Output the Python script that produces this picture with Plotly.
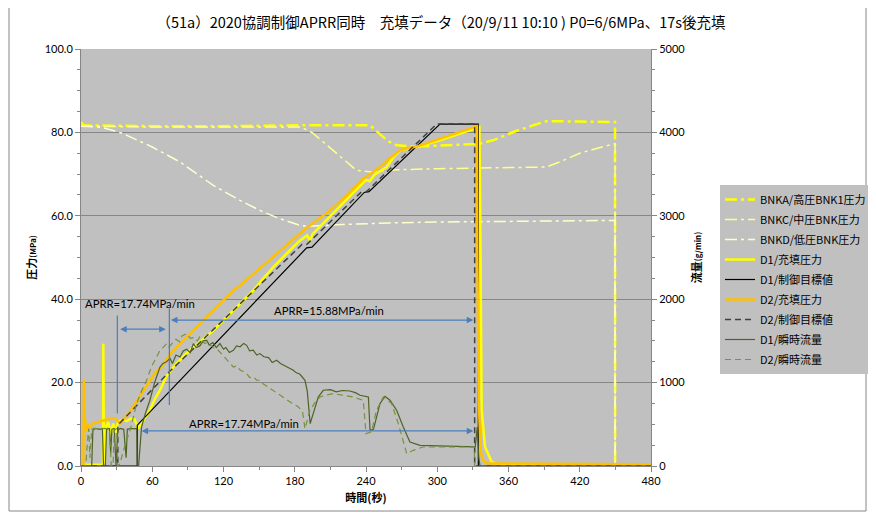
import plotly.graph_objects as go

# ---------------- data ----------------
# Bank pressures (MPa)
bnka_t = [0, 1, 3, 60, 120, 180, 243.4, 251.8, 258, 265.8, 280, 300, 320, 336, 347, 364, 380.9, 392, 420, 448, 449.7, 449.8, 480]
bnka_p = [82.5, 82.0, 81.7, 81.5, 81.5, 81.7, 81.7, 79.7, 78.0, 76.9, 76.6, 76.8, 77.1, 77.3, 78.1, 80.1, 81.7, 82.7, 82.6, 82.5, 82.5, 0, 0]

bnkc_t = [0, 60, 120, 185, 195, 205, 215, 225, 232, 245, 260, 300, 340, 380, 392, 403, 420, 440, 448, 449.7, 449.8, 480]
bnkc_p = [81.5, 81.3, 81.3, 81.3, 79.9, 77.5, 75.0, 72.5, 70.9, 70.5, 71.0, 71.3, 71.5, 71.7, 71.7, 72.9, 75.0, 76.6, 77.3, 77.3, 0, 0]

bnkd_t = [0, 15, 21.6, 35.6, 60, 83.4, 111.4, 133.9, 153.5, 167.6, 184.4, 192, 220, 260, 300, 340, 400, 449, 449.7, 449.8, 480]
bnkd_p = [81.5, 81.3, 80.9, 79.7, 76.5, 72.9, 67.3, 63.7, 60.9, 59.3, 57.7, 57.5, 57.9, 58.3, 58.5, 58.6, 58.7, 58.9, 58.9, 0, 0]

# D1 fill pressure (MPa)
d1p_t = [0, 18.5, 18.8, 19.3, 21, 23, 25, 27, 29, 31, 35, 39, 42, 45, 48.3, 50, 54, 58, 62, 66.5, 72, 77.7, 86, 94.6,
         103, 111.4, 120, 128.3, 136, 145.1, 153, 162, 172, 184.4, 190.5, 192.8, 195, 205, 218, 230, 240, 243, 247,
         257.4, 263, 269, 282.7, 302.3, 316, 330.4, 335.5, 336.2, 337.4, 340.2, 345.8, 352, 480]
d1p_p = [0.3, 0.3, 29.3, 0.5, 9.5, 10.5, 7.5, 10.2, 8.0, 10.5, 11.0, 10.8, 11.4, 11.2, 9.0, 9.8, 11.5, 13.4, 16.0, 18.2, 21.5,
         23.7, 26.3, 28.5, 30.5, 32.5, 35.0, 37.3, 39.5, 42.1, 44.8, 47.7, 50.6, 54.1, 55.3, 54.0, 55.6, 58.5, 62.1, 65.8,
         68.6, 68.3, 69.8, 71.7, 74.0, 75.7, 76.5, 78.1, 79.5, 80.9, 81.3, 60.0, 13.4, 4.6, 1.0, 0.4, 0.3]

# D1 control target (MPa)
d1t_t = [0, 47.4, 47.4, 190.0, 194.5, 238.5, 242.5, 302.3, 334.6, 334.6, 480]
d1t_p = [0, 0, 9.8, 52.3, 52.5, 65.6, 65.8, 82.0, 82.0, 0, 0]

# D2 fill pressure (MPa)
d2p_t = [0, 2.0, 2.4, 3.2, 4.5, 6, 8, 10, 15, 20, 25, 28.6, 31, 32.8, 37, 40, 43, 49, 55.3, 61, 68, 75, 85, 94.6, 103,
         111.4, 120, 128.3, 134, 148, 162, 174, 185.8, 197, 209.7, 224, 237.7, 245, 251.8, 260, 268.6, 276, 282.7, 292,
         302.3, 316, 330.4, 333.5, 333.8, 335, 336.5, 338, 342, 480]
d2p_p = [0.5, 0.5, 20.8, 11.7, 8.2, 10.0, 9.4, 10.2, 10.6, 11.0, 11.4, 11.4, 10.8, 10.2, 11.5, 12.5, 13.8, 16.4, 19.4, 21.8,
         23.9, 26.8, 29.8, 32.5, 35.0, 37.3, 39.8, 42.1, 43.3, 46.8, 50.1, 53.2, 56.1, 58.6, 61.3, 64.9, 68.9, 70.3, 71.7,
         73.8, 75.7, 76.3, 76.6, 77.5, 78.5, 79.8, 81.3, 81.5, 50.0, 15.0, 4.0, 1.5, 0.6, 0.4]

# D2 control target (MPa)
d2t_t = [0, 31, 31, 74.4, 186, 190, 236, 240, 299.5, 331.5, 331.5, 480]
d2t_p = [0, 0, 9.8, 22.6, 53.1, 53.1, 65.7, 65.7, 82.0, 82.0, 0, 0]

# D1 instantaneous flow (g/min)
d1f_t = [0, 9, 10, 12, 16, 18, 19, 20.5, 21.5, 24, 25, 26, 28, 29.5, 31, 33, 36, 38, 39, 42, 45, 47, 47.4, 48.5, 51, 54,
         58, 62, 66.5, 69, 72, 75, 77, 80, 83.4, 86, 89, 92, 94.6, 97, 100, 103, 105.9, 108, 111, 114, 117, 120, 122,
         125, 128.3, 131, 134, 137, 139.5, 142, 145, 148, 150.7, 154, 158, 161, 164.8, 168, 172, 175, 178.8, 181, 184.4,
         188.6, 190.5, 193, 195, 199.8, 204, 210, 215, 220, 226.5, 231, 235, 242, 243.4, 246.3, 251.8, 256, 260.2,
         265.8, 271.4, 277, 285.5, 300, 310.7, 320, 330.4, 332, 333.7, 335, 336, 480]
d1f_v = [0, 0, 430, 450, 440, 450, 0, 0, 440, 450, 150, 440, 450, 0, 430, 450, 440, 100, 440, 450, 445, 450, 0, 0, 468,
         620, 788, 1000, 1187, 1230, 1250, 1290, 1230, 1330, 1307, 1380, 1400, 1360, 1468, 1420, 1440, 1500, 1507, 1450,
         1480, 1420, 1468, 1400, 1420, 1360, 1387, 1440, 1430, 1470, 1447, 1380, 1390, 1330, 1348, 1310, 1300, 1240,
         1267, 1230, 1200, 1180, 1147, 1120, 1100, 1028, 900, 508, 600, 827, 908, 915, 890, 905, 899, 880, 848, 827, 428,
         440, 748, 836, 788, 668, 468, 288, 248, 240, 236, 232, 228, 230, 468, 100, 0, 0]

# D2 instantaneous flow (g/min)
d2f_t = [0, 4, 5.5, 6.5, 7.5, 9, 11, 15, 20, 24, 25.5, 27, 28, 30, 30.8, 32.8, 36, 41.3, 46.9, 51, 55.3, 59, 63.7, 66.5,
         69, 72.2, 74, 77, 80, 83, 85, 89, 92, 95, 98, 100, 104, 107, 111, 114.3, 118, 121, 125, 128.3, 131, 134, 137,
         139.5, 142, 145, 148, 150.7, 153, 156, 159, 162, 165, 168, 171, 173.2, 176, 179, 182, 184.4, 186.5, 188.6,
         190.5, 192.8, 197, 201.3, 206, 212.5, 220, 229.3, 237.7, 240, 244.6, 248.8, 254.6, 261.6, 267.2, 271.4, 274.3,
         279.8, 288, 310.7, 330.4, 331.2, 331.5, 480]
d2f_v = [0, 0, 300, 450, 100, 440, 450, 445, 450, 440, 0, 0, 430, 450, 0, 29, 200, 428, 748, 900, 1028, 1180, 1307, 1387,
         1420, 1468, 1428, 1480, 1520, 1490, 1560, 1587, 1530, 1540, 1500, 1547, 1470, 1480, 1420, 1408, 1350, 1300,
         1240, 1187, 1200, 1150, 1130, 1108, 1060, 1070, 1030, 1028, 990, 960, 940, 908, 870, 850, 810, 788, 770, 740,
         720, 688, 660, 448, 560, 668, 760, 827, 850, 868, 850, 827, 788, 388, 408, 668, 827, 748, 508, 308, 148, 188,
         228, 228, 228, 228, 0, 0]

# Tick values
x_ticks = [0, 60, 120, 180, 240, 300, 360, 420, 480]
y_ticks = [0, 20, 40, 60, 80, 100]
y2_ticks = [0, 1000, 2000, 3000, 4000, 5000]

# APRR annotations: (label, text x, text y)
aprr_labels = ["APRR=17.74MPa/min", "APRR=15.88MPa/min", "APRR=17.74MPa/min"]
aprr_text_x = [1.4, 160.8, 89.0]
aprr_text_y = [38.9, 37.2, 10.2]
# double arrows: (x start, x end, y)
arrow_x0 = [31.7, 74.4, 49.7]
arrow_x1 = [71.4, 330.4, 330.4]
arrow_y = [32.8, 35.0, 8.4]
# vertical marker lines: (x, y0, y1)
vline_x = [30.6, 74.4]
vline_y0 = [12.6, 14.6]
vline_y1 = [36.1, 37.8]

# ---------------- figure ----------------
FONT = "Noto Sans CJK JP"
NUMFONT = "Lato"
DASHDOT = "12px,4px,3px,4px"

# the page body adds an 8px offset; plot area in figure coords: x 73-643, y 41-458
W, H = 868, 509
L, R, T, B = 73, 225, 41, 51
PW, PH = W - L - R, H - T - B

fig = go.Figure()

def add(t, v, name, color, width, dash="solid", yaxis="y"):
    fig.add_trace(go.Scatter(x=t, y=v, name=name, mode="lines", yaxis=yaxis, legendgroup=name,
                             line=dict(color=color, width=width, dash=dash)))

add(bnka_t, bnka_p, "BNKA/高圧BNK1圧力", "#FFFF00", 2.5, DASHDOT)
add(bnkc_t, bnkc_p, "BNKC/中圧BNK圧力", "#FFFF8C", 1.5, DASHDOT)
add(bnkd_t, bnkd_p, "BNKD/低圧BNK圧力", "#FFFFCC", 1.5, DASHDOT)
add(d1p_t, d1p_p, "D1/充填圧力", "#FFFF00", 2.5)
add(d1t_t, d1t_p, "D1/制御目標値", "#000000", 1.2)
add(d2p_t, d2p_p, "D2/充填圧力", "#FFC000", 2.5)
add(d2t_t, d2t_p, "D2/制御目標値", "#404040", 1.5, "6px,4px")
add(d1f_t, d1f_v, "D1/瞬時流量", "#4F6228", 1.2, "solid", "y2")
add(d2f_t, d2f_v, "D2/瞬時流量", "#77933C", 1.2, "6px,4px", "y2")

axis_col = "#868686"

annotations = []
for lab, tx, ty in zip(aprr_labels, aprr_text_x, aprr_text_y):
    annotations.append(dict(x=tx, y=ty, xref="x", yref="y", text=lab, showarrow=False,
                            xanchor="left", yanchor="middle",
                            font=dict(family=NUMFONT, size=11.3, color="#000000")))
for x0, x1, yy in zip(arrow_x0, arrow_x1, arrow_y):
    annotations.append(dict(x=x1, y=yy, ax=x0, ay=yy, xref="x", yref="y", axref="x", ayref="y",
                            text="", showarrow=True, arrowhead=2, startarrowhead=2, arrowside="end+start",
                            arrowsize=1.1, startarrowsize=1.1, arrowwidth=1.2, arrowcolor="#4A7EBB",
                            standoff=0, startstandoff=0))

shapes = []
for vx, vy0, vy1 in zip(vline_x, vline_y0, vline_y1):
    shapes.append(dict(type="line", xref="x", yref="y", x0=vx, x1=vx, y0=vy0, y1=vy1,
                       line=dict(color="#4A7EBB", width=1.2)))
# outer chart border
shapes.append(dict(type="rect", xref="paper", yref="paper",
                   x0=(1 - L) / PW, x1=(858 - L) / PW, y0=(T + PH - 503) / PH, y1=(T + PH + 2) / PH,
                   line=dict(color=axis_col, width=1), fillcolor="rgba(0,0,0,0)", layer="below"))

fig.update_layout(
    width=W, height=H,
    margin=dict(l=L, r=R, t=T, b=B, autoexpand=False),
    paper_bgcolor="white", plot_bgcolor="#C0C0C0",
    title=dict(text="（51a）2020協調制御APRR同時　充填データ（20/9/11 10:10 ) P0=6/6MPa、17s後充填",
               x=(441 - 8 - L) / PW, xref="paper", xanchor="center", y=1 - 15 / H, yanchor="middle",
               font=dict(family=FONT, size=14.5, color="#000000")),
    xaxis=dict(range=[0, 480], tickvals=x_ticks, ticktext=[str(v) for v in x_ticks],
               showgrid=False, zeroline=False, showline=True, linecolor=axis_col, linewidth=1,
               ticks="outside", ticklen=5, tickcolor=axis_col,
               minor=dict(dtick=30, ticks="outside", ticklen=3, tickcolor=axis_col, showgrid=False),
               tickfont=dict(family=NUMFONT, size=11, color="#000000"),
               title=dict(text="<b>時間(秒)</b>", font=dict(family=FONT, size=11, color="#000000"), standoff=8)),
    yaxis=dict(range=[0, 100], tickvals=y_ticks, ticktext=[f"{v:.1f}" for v in y_ticks],
               showgrid=True, gridcolor=axis_col, gridwidth=1, zeroline=False,
               showline=True, linecolor=axis_col, linewidth=1,
               ticks="outside", ticklen=5, tickcolor=axis_col,
               minor=dict(dtick=5, ticks="outside", ticklen=3, tickcolor=axis_col, showgrid=False),
               tickfont=dict(family=NUMFONT, size=11, color="#000000"),
               title=dict(text="<b>圧力</b><span style='font-size:8px'><b>(MPa)</b></span>",
                          font=dict(family=FONT, size=11, color="#000000"), standoff=5)),
    yaxis2=dict(range=[0, 5000], overlaying="y", side="right", tickvals=y2_ticks,
                ticktext=[str(v) for v in y2_ticks],
                showgrid=False, zeroline=False, showline=True, linecolor=axis_col, linewidth=1,
                ticks="outside", ticklen=5, tickcolor=axis_col,
                minor=dict(dtick=250, ticks="outside", ticklen=3, tickcolor=axis_col, showgrid=False),
                tickfont=dict(family=NUMFONT, size=11, color="#000000"),
                title=dict(text="<b>流量</b><span style='font-size:8px'><b>(g/min)</b></span>",
                           font=dict(family=FONT, size=11, color="#000000"), standoff=8)),
    legend=dict(x=(712 - L) / PW, xanchor="left", y=(T + PH - 177) / PH, yanchor="top",
                bgcolor="#C0C0C0", borderwidth=0, font=dict(family=FONT, size=11, color="#000000"),
                traceorder="grouped", tracegroupgap=1),
    showlegend=True,
    annotations=annotations,
    shapes=shapes,
)

fig.write_html("out.html")
